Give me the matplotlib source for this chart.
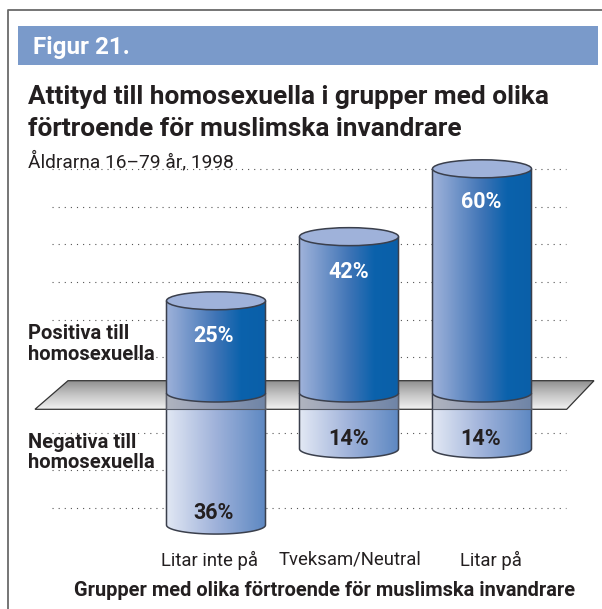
#!/usr/bin/env python

import matplotlib
matplotlib.use('Agg')
import matplotlib.pyplot as plt
import numpy as np
from matplotlib.colors import LinearSegmentedColormap
from matplotlib.patches import Ellipse, PathPatch, Polygon, Rectangle
from matplotlib.path import Path

W, H = 602, 609

groups = ['Litar inte på', 'Tveksam/Neutral', 'Litar på']
positive = [25, 42, 60]
negative = [36, 14, 14]
# the 36% cylinder is drawn a little short in the original
negative_drawn = [34.5, 14.3, 14.3]
grid_levels = [60, 50, 40, 30, 20, 10, -10, -20, -30]

plt.rcParams['font.family'] = ['Roboto', 'DejaVu Sans']

DARK = '#231f20'
EDGE = '#3a3f4c'
pos_cmap = LinearSegmentedColormap.from_list('pos', ['#9fb2da', '#6f93c8', '#3f74b6', '#0b62ac', '#0a5fa8'])
neg_cmap = LinearSegmentedColormap.from_list('neg', ['#e2e8f4', '#9fb2da', '#5d88c2'])
plane_cmap = LinearSegmentedColormap.from_list('plane', ['#8e8e8e', '#c4c4c4', '#f0f0f0'])

# one axes over the whole figure: y in percent, x in group positions
PX_PCT = 3.77
Y0 = 395.0
X0, DX = 216.0, 133.0
BAR_W = 99.0 / DX
ELL_H = 9.0 / PX_PCT

fig = plt.figure(figsize=(W / 100, H / 100), dpi=100)
ax = fig.add_axes([0, 0, 1, 1])

def px(x, y):
	"""Pixel position in the reference to data position."""
	return (x - X0) / DX, (Y0 - y) / PX_PCT

def ptext(x, y, s, **kw):
	xd, yd = px(x, y)
	ax.text(xd, yd, s, **kw)

def cylinder(x, top, bottom, cmap, z):
	"""Body of a cylinder, top edge straight, lower edge rounded."""
	t = np.linspace(np.pi, 2 * np.pi, 40)
	xs = x + BAR_W / 2 * np.cos(t)
	ys = bottom + ELL_H * np.sin(t)
	verts = [(x - BAR_W / 2, top)] + list(zip(xs, ys)) + [(x + BAR_W / 2, top)]
	body = Path(verts + [verts[0]], closed=True)
	im = ax.imshow(np.linspace(0, 1, 256).reshape(1, -1), cmap=cmap, aspect='auto', zorder=z,
		extent=(x - BAR_W / 2, x + BAR_W / 2, bottom - ELL_H, top), vmin=0, vmax=1)
	im.set_clip_path(PathPatch(body, transform=ax.transData))
	ax.add_patch(PathPatch(Path(verts), fill=False, ec=EDGE, lw=1.1, zorder=z + 0.1))

# frame: only top and left show
ax.plot(*zip(px(8, 620), px(8, 10), px(602, 10)), color='#6a6a6a', lw=1.3, zorder=1)
ax.add_patch(Rectangle(px(18, 65), 580 / DX, 39 / PX_PCT, fc='#7a9aca', ec='none', zorder=2))
ptext(33, 47, 'Figur 21.', color='white', fontsize=17.5, fontweight='bold', va='center', ha='left', zorder=3)

ptext(28, 97, 'Attityd till homosexuella i grupper med olika', color=DARK, fontsize=18.9,
	fontweight='bold', va='center', ha='left', zorder=5)
ptext(28, 129, 'förtroende för muslimska invandrare', color=DARK, fontsize=18.9,
	fontweight='bold', va='center', ha='left', zorder=5)
ptext(28, 161, 'Åldrarna 16–79 år, 1998', color=DARK, fontsize=13.8, va='center', ha='left', zorder=5)

# grid
x_left, _ = px(52, 0)
x_right, _ = px(566, 0)
ax.hlines(grid_levels, x_left, x_right, colors='#555555', linewidth=0.8, linestyles=[(0, (1, 4.5))], zorder=1)

# plane
plane_pts = [px(68, 380.7), px(594, 380.7), px(566.7, 409.3), px(35, 409.3)]
plane = Polygon(plane_pts, closed=True, fc='none', ec='none', transform=ax.transData)
ax.add_patch(plane)
im = ax.imshow(np.linspace(0, 1, 64).reshape(-1, 1), cmap=plane_cmap, aspect='auto', zorder=2,
	extent=(px(35, 0)[0], px(594, 0)[0], px(0, 409.3)[1], px(0, 380.7)[1]), vmin=0, vmax=1)
im.set_clip_path(plane)
ax.add_patch(Polygon(plane_pts, closed=True, fc='none', ec='#333333', lw=0.9, zorder=2.1))

for i, (p, n) in enumerate(zip(positive, negative_drawn)):
	# negative part first, it runs up behind the plane
	cylinder(i, px(0, 393)[1], -n, neg_cmap, 3)
	# plane seen over the negative cylinder
	ax.add_patch(Rectangle((i - BAR_W / 2, px(0, 409.3)[1]), BAR_W, (409.3 - 393) / PX_PCT,
		fc='#80828c', ec='none', alpha=0.5, zorder=3.2))
	ax.plot([i - BAR_W / 2, i + BAR_W / 2], [px(0, 409.3)[1]] * 2, color='#555a66', lw=0.8, zorder=3.3)
	# positive part
	cylinder(i, p, px(0, 393)[1], pos_cmap, 4)
	ax.add_patch(Ellipse((i, p), BAR_W, 2 * ELL_H, fc='#9fb2da', ec=EDGE, lw=1.1, zorder=4.2))

label_y_pos = [336, 272, 202]
label_y_neg = [513, 439, 439]
label_x = [214, 349, 481]
group_x = [210, 350, 491]
for i in range(len(groups)):
	ptext(label_x[i], label_y_pos[i], '%d%%' % positive[i], color='white',
		fontsize=15.5, fontweight='bold', ha='center', va='center', zorder=6)
	ptext(label_x[i], label_y_neg[i], '%d%%' % negative[i], color=DARK,
		fontsize=15.5, fontweight='bold', ha='center', va='center', zorder=6)
	ptext(group_x[i], 560, groups[i], color=DARK, fontsize=13.3, ha='center', va='center', zorder=6)

for y, s in [(333, 'Positiva till'), (355, 'homosexuella'), (442, 'Negativa till'), (463, 'homosexuella')]:
	ptext(28, y, s, color=DARK, fontsize=14.5, fontweight='bold', ha='left', va='center', zorder=6)

ptext(325, 591, 'Grupper med olika förtroende för muslimska invandrare', color=DARK, fontsize=14.4,
	fontweight='bold', ha='center', va='center', zorder=6)

ax.set_xlim(-X0 / DX, (W - X0) / DX)
ax.set_ylim((Y0 - H) / PX_PCT, Y0 / PX_PCT)
ax.axis('off')
fig.savefig('out.png', dpi=100)
